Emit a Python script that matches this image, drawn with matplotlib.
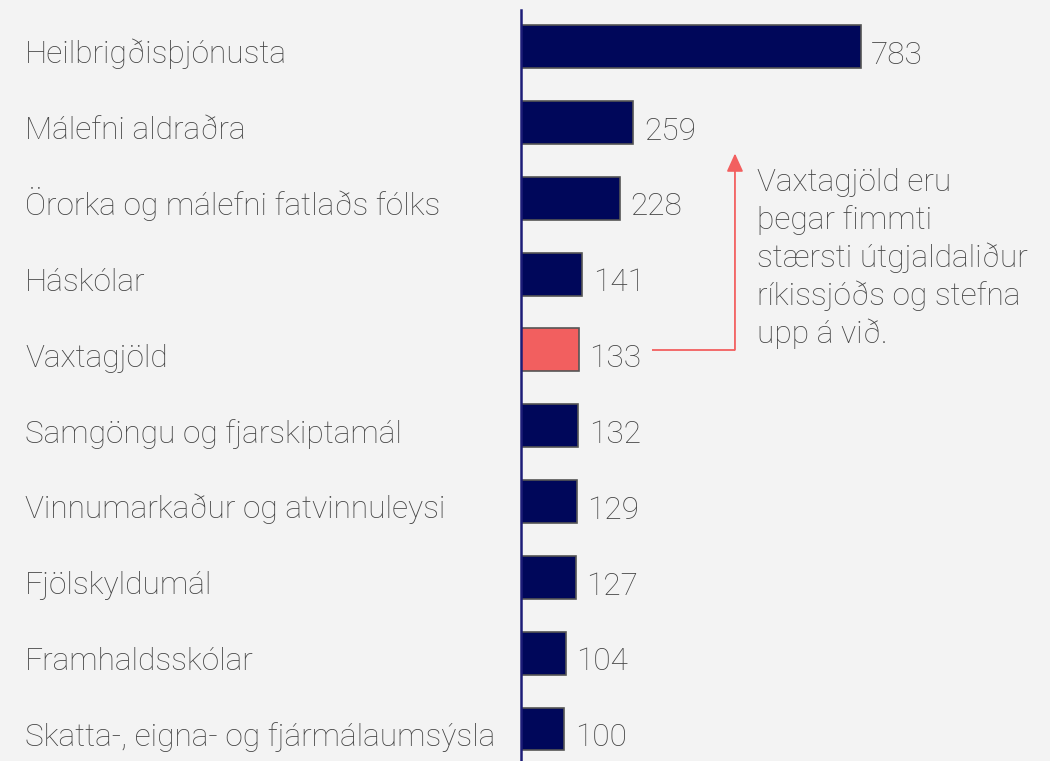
import matplotlib
matplotlib.use("Agg")
import matplotlib.pyplot as plt
from matplotlib.transforms import blended_transform_factory, offset_copy

categories = ["Heilbrigðisþjónusta", "Málefni aldraðra", "Örorka og málefni fatlaðs fólks",
              "Háskólar", "Vaxtagjöld", "Samgöngu og fjarskiptamál",
              "Vinnumarkaður og atvinnuleysi", "Fjölskyldumál", "Framhaldsskólar",
              "Skatta-, eigna- og fjármálaumsýsla"]
values = [783, 259, 228, 141, 133, 132, 129, 127, 104, 100]
highlight = "Vaxtagjöld"
note = "Vaxtagjöld eru\nþegar fimmti\nstærsti útgjaldaliður\nríkissjóðs og stefna\nupp á við."

BG = "#f3f3f3"
NAVY = "#00075a"
RED = "#f25f5f"
TXT = "#444444"
FONT = ["Roboto", "DejaVu Sans"]
plt.rcParams["font.family"] = FONT

W, H = 1050, 761
fig = plt.figure(figsize=(W / 100, H / 100), dpi=100, facecolor=BG)
ax = fig.add_axes([521 / W, 0, 1 - 521 / W, (H - 10) / H], facecolor=BG)

ypos = list(range(len(categories)))
colors = [RED if c == highlight else NAVY for c in categories]
ax.barh(ypos, values, height=0.567, color=colors, edgecolor="#555555", linewidth=1.2, zorder=2)

ax.set_xlim(0, (W - 521) / 0.434)
ax.set_ylim(9.422, -0.4815)

for s in ["top", "right", "bottom"]:
    ax.spines[s].set_visible(False)
ax.spines["left"].set_color("#1c1c78")
ax.spines["left"].set_linewidth(1.8)
ax.spines["left"].set_zorder(3)
ax.set_xticks([])
ax.set_yticks([])

fs = 22.8
tr = blended_transform_factory(fig.transFigure, ax.transData)
tr = offset_copy(tr, fig=fig, x=0, y=-12.2, units="points")
for y, c in zip(ypos, categories):
    ax.text(25 / W, y, c, transform=tr, ha="left", va="baseline", fontsize=fs,
            color=TXT, fontweight="light")

for y, v in zip(ypos, values):
    ax.annotate(str(v), xy=(v, y), xytext=(7.5, -12.4), textcoords="offset points",
                ha="left", va="baseline", fontsize=fs, color=TXT, fontweight="light")

# annotation arrow
hi = categories.index(highlight)
ax.plot([302, 493], [hi, hi], color=RED, lw=1.3, zorder=1, solid_capstyle="butt")
ax.annotate("", xy=(493, 1.41), xytext=(493, hi),
            arrowprops=dict(arrowstyle="-|>,head_length=1.1,head_width=0.5",
                            mutation_scale=10, color=RED, lw=1.3, shrinkA=0, shrinkB=0))
ax.text(544, 3.91, note, ha="left", va="baseline", fontsize=fs, color=TXT,
        fontweight="light", linespacing=1.31)

fig.savefig("out.png", dpi=100, facecolor=BG)
